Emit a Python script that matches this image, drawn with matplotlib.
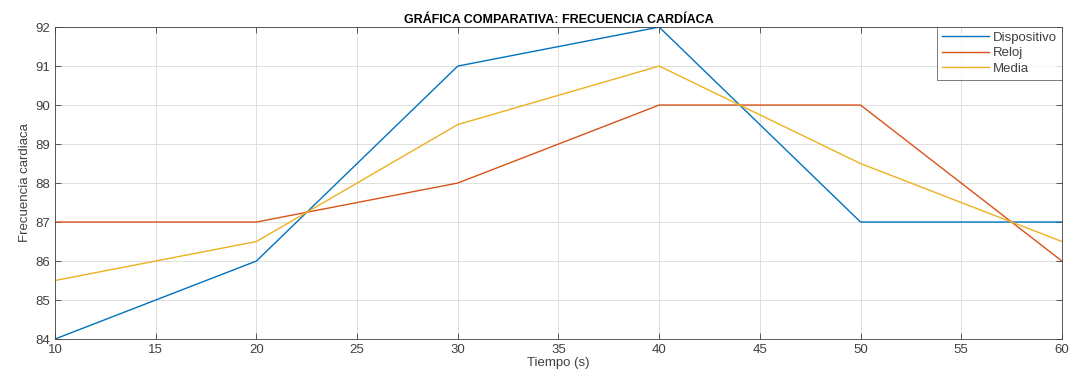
import matplotlib
matplotlib.use("Agg")
import matplotlib.pyplot as plt

tiempo = [10, 20, 30, 40, 50, 60]
dispositivo = [84, 86, 91, 92, 87, 87]
reloj = [87, 87, 88, 90, 90, 86]
media = [85.5, 86.5, 89.5, 91, 88.5, 86.5]

plt.rcParams['font.family'] = ['Liberation Sans', 'DejaVu Sans']

fig = plt.figure(figsize=(10.88, 3.76), dpi=100)
ax = fig.add_axes([0.0506, 0.0984, 0.9254, 0.8296])

ax.plot(tiempo, dispositivo, color='#0072BD', lw=1.0, label='Dispositivo')
ax.plot(tiempo, reloj, color='#D95319', lw=1.0, label='Reloj')
ax.plot(tiempo, media, color='#EDB120', lw=1.0, label='Media')

ax.set_xlim(10, 60)
ax.set_ylim(84, 92)
ax.set_xticks(range(10, 61, 5))
ax.set_yticks(range(84, 93))
ax.grid(True, color='#dfdfdf', lw=0.7)
ax.set_axisbelow(True)
ax.tick_params(direction='in', top=True, right=True, labelsize=9.5, colors='#404040', length=4, width=0.6)
for s in ax.spines.values():
    s.set_color('#404040')
    s.set_linewidth(0.6)

ax.set_title('GRÁFICA COMPARATIVA: FRECUENCIA CARDÍACA', fontsize=9, fontweight='bold', pad=3)
ax.set_xlabel('Tiempo (s)', fontsize=9.5, labelpad=1, color='#404040')
ax.set_ylabel('Frecuencia cardiaca', fontsize=9.5, labelpad=3, color='#404040')

leg = ax.legend(loc='upper right', fontsize=9.5, frameon=True, fancybox=False,
                borderaxespad=0, handlelength=3.6, handletextpad=0.3,
                labelspacing=0.25, borderpad=0.35)
leg.get_frame().set_edgecolor('#404040')
leg.get_frame().set_linewidth(0.6)
for t in leg.get_texts():
    t.set_color('#404040')

fig.savefig('out.png', dpi=100)
